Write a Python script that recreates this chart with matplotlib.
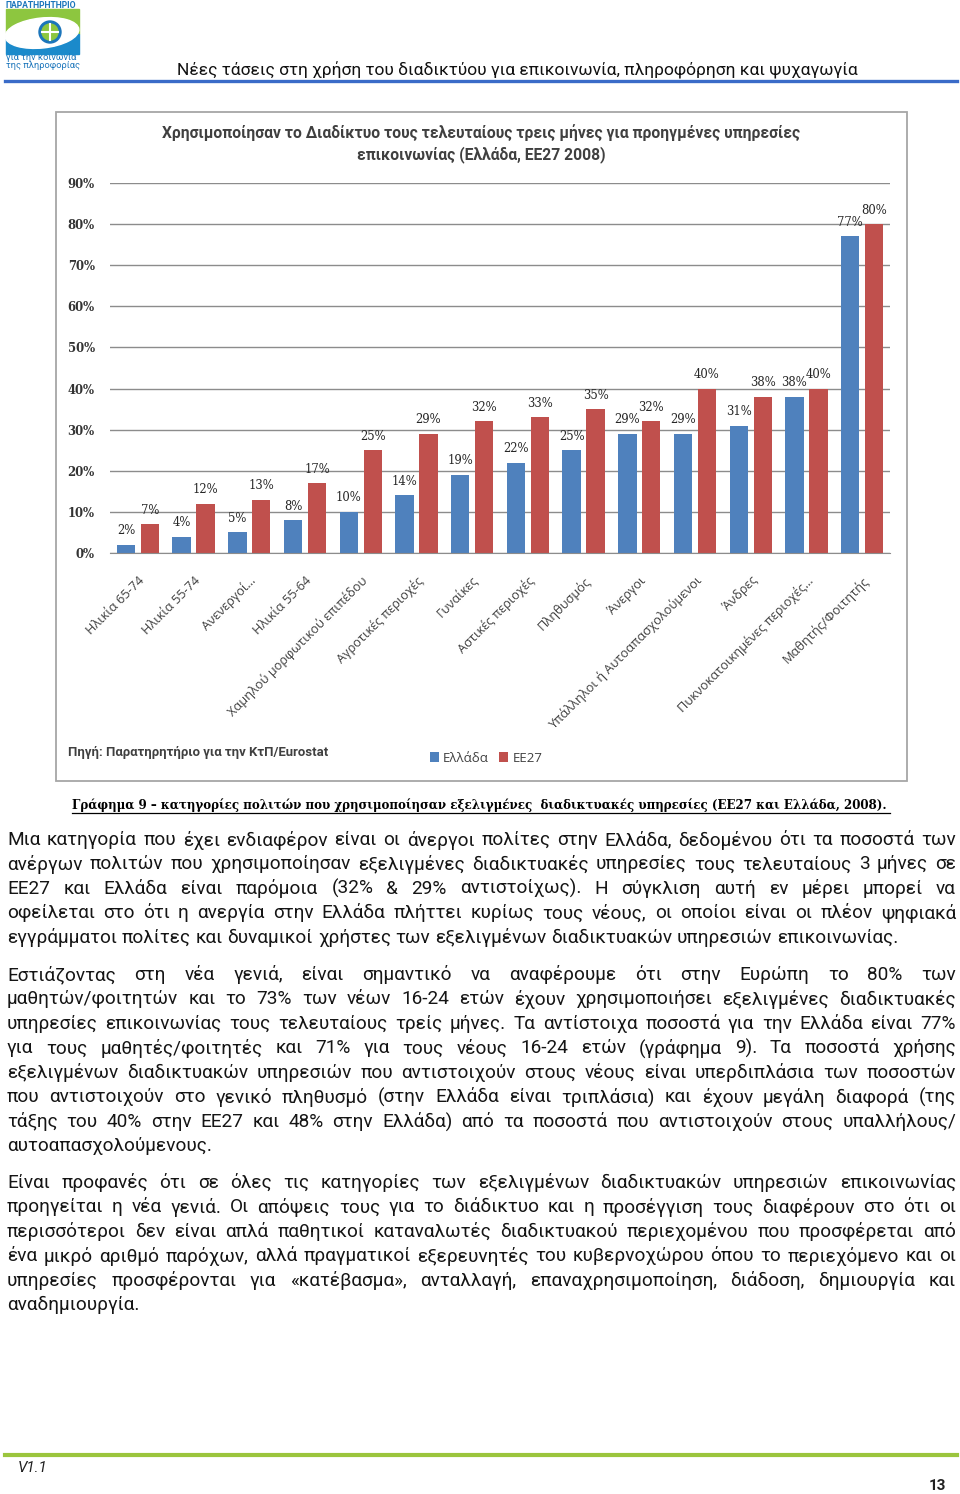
import numpy as np
import matplotlib
matplotlib.use("Agg")
import matplotlib.pyplot as plt
from matplotlib.patches import Rectangle, Ellipse, Circle
from matplotlib.lines import Line2D

# δεδομένα γραφήματος
categories = ["Ηλικία 65-74", "Ηλικία 55-74", "Ανενεργοί…", "Ηλικία 55-64",
              "Χαμηλού μορφωτικού επιπέδου", "Αγροτικές περιοχές", "Γυναίκες",
              "Αστικές περιοχές", "Πληθυσμός", "Άνεργοι",
              "Υπάλληλοι ή Αυτοαπασχολούμενοι", "Άνδρες",
              "Πυκνοκατοικημένες περιοχές…", "Μαθητής/Φοιτητής"]
greece = [2, 4, 5, 8, 10, 14, 19, 22, 25, 29, 29, 31, 38, 77]
eu27 = [7, 12, 13, 17, 25, 29, 32, 33, 35, 32, 40, 38, 40, 80]
yticks = [0, 10, 20, 30, 40, 50, 60, 70, 80, 90]

# κείμενο σελίδας
header = "Νέες τάσεις στη χρήση του διαδικτύου για επικοινωνία, πληροφόρηση και ψυχαγωγία"
title1 = "Χρησιμοποίησαν το Διαδίκτυο τους τελευταίους τρεις μήνες για προηγμένες υπηρεσίες"
title2 = "επικοινωνίας (Ελλάδα, ΕΕ27 2008)"
source = "Πηγή: Παρατηρητήριο για την ΚτΠ/Eurostat"
caption = "Γράφημα 9 – κατηγορίες πολιτών που χρησιμοποίησαν εξελιγμένες  διαδικτυακές υπηρεσίες (ΕΕ27 και Ελλάδα, 2008)."

par1 = ["Μια κατηγορία που έχει ενδιαφέρον είναι οι άνεργοι πολίτες στην Ελλάδα, δεδομένου ότι τα ποσοστά των",
        "ανέργων πολιτών που χρησιμοποίησαν εξελιγμένες  διαδικτυακές υπηρεσίες τους τελευταίους 3 μήνες σε",
        "ΕΕ27 και Ελλάδα είναι παρόμοια (32% & 29% αντιστοίχως). Η σύγκλιση αυτή εν μέρει μπορεί να",
        "οφείλεται στο ότι η ανεργία στην Ελλάδα πλήττει κυρίως τους νέους, οι οποίοι είναι οι πλέον ψηφιακά",
        "εγγράμματοι πολίτες και δυναμικοί χρήστες των εξελιγμένων διαδικτυακών υπηρεσιών επικοινωνίας."]
par2 = ["Εστιάζοντας στη νέα γενιά, είναι σημαντικό να αναφέρουμε ότι στην Ευρώπη το 80% των",
        "μαθητών/φοιτητών και το 73% των νέων 16-24 ετών έχουν χρησιμοποιήσει εξελιγμένες διαδικτυακές",
        "υπηρεσίες επικοινωνίας τους τελευταίους τρείς μήνες. Τα αντίστοιχα ποσοστά για την Ελλάδα είναι 77%",
        "για τους μαθητές/φοιτητές και 71% για τους νέους 16-24 ετών (γράφημα 9). Τα ποσοστά χρήσης",
        "εξελιγμένων διαδικτυακών υπηρεσιών που αντιστοιχούν στους νέους είναι υπερδιπλάσια των ποσοστών",
        "που αντιστοιχούν στο γενικό πληθυσμό (στην Ελλάδα είναι τριπλάσια) και έχουν μεγάλη διαφορά (της",
        "τάξης του 40% στην  ΕΕ27 και 48% στην Ελλάδα) από τα ποσοστά που αντιστοιχούν στους υπαλλήλους/",
        "αυτοαπασχολούμενους."]
par3 = ["Είναι προφανές ότι σε όλες τις κατηγορίες των εξελιγμένων διαδικτυακών υπηρεσιών επικοινωνίας",
        "προηγείται η νέα γενιά. Οι απόψεις τους για το διάδικτυο και η προσέγγιση τους διαφέρουν στο ότι οι",
        "περισσότεροι δεν είναι απλά παθητικοί καταναλωτές διαδικτυακού περιεχομένου που προσφέρεται από",
        "ένα μικρό αριθμό παρόχων, αλλά πραγματικοί εξερευνητές του κυβερνοχώρου όπου το περιεχόμενο και οι",
        "υπηρεσίες προσφέρονται για «κατέβασμα», ανταλλαγή, επαναχρησιμοποίηση, διάδοση, δημιουργία και",
        "αναδημιουργία."]

SANS = ["Open Sans", "DejaVu Sans"]
NARROW = ["Roboto", "DejaVu Sans"]
SERIF = ["DejaVu Serif"]
BODY = dict(family=NARROW)
BLUE = "#4F81BD"
RED = "#C0504D"
GREY = "#404040"

W, H = 960, 1494
fig = plt.figure(figsize=(W / 100, H / 100), dpi=100)
fig.patch.set_facecolor("white")
r = fig.canvas.get_renderer()


def fx(x):
    return x / W


def fy(y):
    return 1 - y / H


def width_of(s, **kw):
    t = fig.text(0, 0, s, **kw)
    w = t.get_window_extent(r).width
    t.remove()
    return w


def fit_size(s, target, base=10, **kw):
    return base * target / width_of(s, fontsize=base, **kw)


# ---- κεφαλίδα σελίδας ----
lg = fig.add_axes([0, fy(75), fx(90), 75 / H])
lg.set_xlim(0, 90)
lg.set_ylim(75, 0)
lg.axis("off")
lg.add_patch(Rectangle((6, 9), 73, 25, color="#8DC63F"))
lg.add_patch(Rectangle((6, 34), 73, 20, color="#1B8ACB"))
lg.add_patch(Ellipse((42, 33), 74, 30, angle=-6, color="white"))
lg.add_patch(Circle((50, 32), 11, color="#1B75BB"))
lg.add_patch(Circle((50, 32), 8, color="#8DC63F"))
lg.plot([42, 58], [32, 32], color="white", lw=1.5)
lg.plot([50, 50], [24, 40], color="white", lw=1.5)
s = fit_size("ΠΑΡΑΤΗΡΗΤΗΡΙΟ", 72, family=NARROW, weight="bold")
fig.text(fx(6), fy(5), "ΠΑΡΑΤΗΡΗΤΗΡΙΟ", family=NARROW, weight="bold", fontsize=s,
         color="#1B75BB", va="center")
s = fit_size("για την κοινωνία", 70, family=NARROW)
fig.text(fx(6), fy(58), "για την κοινωνία", family=NARROW, fontsize=s, color="#1B75BB", va="center")
fig.text(fx(6), fy(66), "της πληροφορίας", family=NARROW, fontsize=s, color="#1B75BB", va="center")

s = fit_size(header, 681, **BODY)
fig.text(fx(177), fy(70), header, fontsize=s, color="#111111", va="center", **BODY)
fig.add_artist(Line2D([fx(5), fx(957)], [fy(81), fy(81)], color="#3A6BC8", lw=2.4))

# ---- πλαίσιο γραφήματος ----
fig.add_artist(Rectangle((fx(56), fy(781)), fx(907) - fx(56), fy(112) - fy(781),
                         transform=fig.transFigure, fill=False, edgecolor="#A6A6A6", lw=1.3))
ts = fit_size(title1, 635, family=NARROW, weight="bold")
fig.text(fx(481), fy(133), title1, family=NARROW, weight="bold", fontsize=ts, color=GREY,
         ha="center", va="center")
fig.text(fx(481), fy(155), title2, family=NARROW, weight="bold", fontsize=ts, color=GREY,
         ha="center", va="center")

ax = fig.add_axes([fx(110), fy(553), fx(890) - fx(110), (553 - 183) / H])
x = np.arange(len(categories))
bw = 0.33
b1 = ax.bar(x - 0.215, greece, bw, color=BLUE, label="Ελλάδα")
b2 = ax.bar(x + 0.215, eu27, bw, color=RED, label="ΕΕ27")
for bars, vals in [(b1, greece), (b2, eu27)]:
    for b, v in zip(bars, vals):
        ax.annotate(f"{v}%", (b.get_x() + b.get_width() / 2, v), xytext=(0, 10),
                    textcoords="offset points", ha="center", va="center",
                    family=SERIF, fontsize=8.4, color="#262626")
ax.set_xlim(-0.5, len(categories) - 0.5)
ax.set_ylim(0, 90)
ax.set_yticks(yticks)
ax.set_yticklabels([f"{t}%" for t in yticks], family=SERIF, fontsize=8.4,
                   weight="bold", color="#333333")
ax.set_xticks(x)
ax.set_xticklabels(categories, rotation=45, ha="right", rotation_mode="anchor",
                   family=SANS, fontsize=9.2, color=GREY)
ax.tick_params(axis="both", length=0)
ax.tick_params(axis="x", pad=15)
ax.tick_params(axis="y", pad=11)
ax.yaxis.grid(True, color="#8C8C8C", lw=1)
ax.set_axisbelow(True)
for sp in ["top", "right", "left"]:
    ax.spines[sp].set_visible(False)
ax.spines["bottom"].set_color("#8C8C8C")

ss = fit_size(source, 261, family=NARROW, weight="bold")
fig.text(fx(68), fy(752), source, family=NARROW, weight="bold", fontsize=ss, color=GREY,
         va="center")
ax.legend(loc="center", bbox_to_anchor=(fx(486), fy(758)), bbox_transform=fig.transFigure,
          ncol=2, frameon=False, handlelength=0.7, handleheight=0.7, handletextpad=0.3,
          columnspacing=0.8, prop={"family": SANS, "size": 9.5}, labelcolor=GREY)

# ---- λεζάντα ----
cs = fit_size(caption, 818, family=SERIF, weight="bold")
fig.text(fx(72), fy(805), caption, family=SERIF, weight="bold", fontsize=cs, color="black",
         va="center")
fig.add_artist(Line2D([fx(72), fx(890)], [fy(813), fy(813)], color="black", lw=0.9))

# ---- κείμενο με πλήρη στοίχιση ----
bs = fit_size(par1[-1], 890, **BODY)


def paragraph(lines, y0, step=24.45, left=7, right=956):
    for i, line in enumerate(lines):
        y = fy(y0 + i * step)
        words = line.split()
        ws = [width_of(w, fontsize=bs, **BODY) for w in words]
        last = i == len(lines) - 1
        if last or len(words) == 1:
            gap = width_of("a b", fontsize=bs, **BODY) - width_of("ab", fontsize=bs, **BODY)
        else:
            gap = (right - left - sum(ws)) / (len(words) - 1)
        xp = left
        for w, wd in zip(words, ws):
            fig.text(fx(xp), y, w, fontsize=bs, color="#151515", va="center", **BODY)
            xp += wd + gap


paragraph(par1, 840)
paragraph(par2, 975)
paragraph(par3, 1183)

# ---- υποσέλιδο ----
fig.add_artist(Line2D([fx(5), fx(957)], [fy(1455), fy(1455)], color="#9BC53D", lw=3))
fig.text(fx(18), fy(1468), "V1.1", family=NARROW, style="italic", fontsize=11, color="#222222",
         va="center")
fig.text(fx(946), fy(1486), "13", family=NARROW, weight="bold", fontsize=11, color="#222222",
         ha="right", va="center")

fig.savefig("out.png", dpi=100)
